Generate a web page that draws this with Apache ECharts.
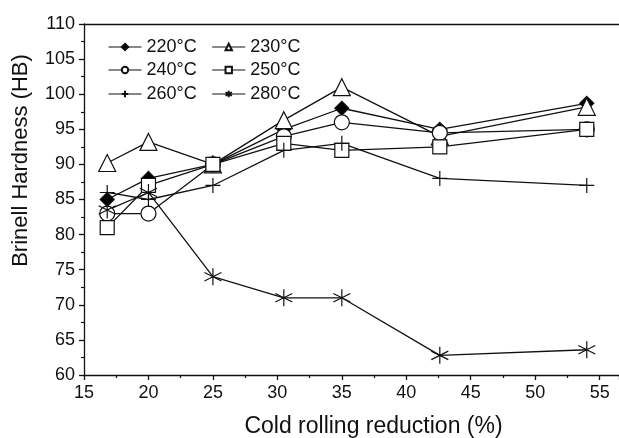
<!DOCTYPE html>
<html>
<head>
<meta charset="utf-8">
<script src="https://cdn.jsdelivr.net/npm/echarts@6/dist/echarts.min.js"></script>
<style>
  html, body { margin: 0; padding: 0; background: #fff; }
  #chart { width: 619px; height: 438px; }
</style>
</head>
<body>
<div id="chart"></div>
<script>
// cold rolling reduction (%)
const reduction = [16.8, 20, 25, 30.5, 35, 42.6, 54]
// Brinell hardness for each rolling temperature
const hb220 = [85, 88, 90, 95, 98, 95, 98.7]
const hb230 = [90.2, 93.2, 90, 96.3, 101, 94, 98.2]
const hb240 = [83, 83, 90, 94, 96, 94.5, 95]
const hb250 = [81, 87, 90, 93, 92, 92.5, 95]
const hb260 = [86, 85, 87, 92, 93, 88, 87]
const hb280 = [83.5, 86, 74, 71, 71, 62.8, 63.6]
const seriesNames = ['220°C', '230°C', '240°C', '250°C', '260°C', '280°C']

const font = 'Liberation Sans, Arial, sans-serif'
const ink = '#111'

const pair = (xs, ys) => xs.map((x, i) => [x, ys[i]])

// 符号：+ 和 Origin 风格星号用 path
const plusPath = 'path://M5,0 L5,10 M0,5 L10,5'
const starPath = 'path://M5,0 L5,10 M0.7,2.5 L9.3,7.5 M0.7,7.5 L9.3,2.5'

const mk = (name, data, symbol, size, fill) => ({
  name,
  type: 'line',
  data: pair(reduction, data),
  symbol,
  symbolSize: size,
  showAllSymbol: true,
  lineStyle: { color: ink, width: 1.3 },
  itemStyle: { color: fill, borderColor: ink, borderWidth: 1.2 },
  emphasis: { disabled: true },
  animation: false,
})

const legendBase = {
  left: 103,
  itemWidth: 33,
  itemHeight: 8,
  itemGap: 15,
  lineStyle: { width: 1 },
  textStyle: { fontFamily: font, fontSize: 18, color: ink },
  selectedMode: false,
}

const option = {
  backgroundColor: '#fff',
  grid: { left: 84, right: 0, top: 24, bottom: 63, containLabel: false, outerBoundsMode: 'none' },
  legend: [
    { ...legendBase, top: 33, data: [seriesNames[0], seriesNames[1]] },
    { ...legendBase, top: 56, data: [seriesNames[2], seriesNames[3]] },
    { ...legendBase, top: 80, data: [seriesNames[4], seriesNames[5]] },
  ],
  xAxis: [
    {
      type: 'value',
      min: 15,
      max: 56.5,
      interval: 5,
      name: 'Cold rolling reduction (%)',
      nameLocation: 'middle',
      nameGap: 40,
      nameTextStyle: { fontFamily: font, fontSize: 23, color: ink, padding: [0, 0, 0, 44] },
      axisLine: { lineStyle: { color: ink, width: 1.3 } },
      axisTick: { length: 5, lineStyle: { color: ink, width: 1.3 } },
      minorTick: { show: true, splitNumber: 2, length: 3, lineStyle: { color: ink, width: 1.2 } },
      axisLabel: { fontFamily: font, fontSize: 18, color: ink, margin: 9, showMaxLabel: false },
      splitLine: { show: false },
    },
    {
      type: 'value',
      position: 'top',
      min: 15,
      max: 56.5,
      axisLine: { lineStyle: { color: ink, width: 1.3 } },
      axisTick: { show: false },
      axisLabel: { show: false },
      splitLine: { show: false },
    },
  ],
  yAxis: {
    type: 'value',
    min: 60,
    max: 110,
    interval: 5,
    name: 'Brinell Hardness (HB)',
    nameLocation: 'middle',
    nameGap: 52,
    nameTextStyle: { fontFamily: font, fontSize: 22, color: ink, padding: [0, 0, 0, 78] },
    axisLine: { show: true, lineStyle: { color: ink, width: 1.3 } },
    axisTick: { show: true, length: 5, lineStyle: { color: ink, width: 1.3 } },
    minorTick: { show: true, splitNumber: 2, length: 3, lineStyle: { color: ink, width: 1.2 } },
    axisLabel: { fontFamily: font, fontSize: 18, color: ink, margin: 9 },
    splitLine: { show: false },
  },
  series: [
    mk(seriesNames[0], hb220, 'diamond', 14, '#000'),
    mk(seriesNames[1], hb230, 'triangle', 17, '#fff'),
    mk(seriesNames[2], hb240, 'circle', 15, '#fff'),
    mk(seriesNames[3], hb250, 'rect', 14, '#fff'),
    mk(seriesNames[4], hb260, plusPath, 15, 'none'),
    mk(seriesNames[5], hb280, starPath, 17, 'none'),
  ],
}

const myChart = echarts.init(document.getElementById('chart'), null, { renderer: 'canvas' })
myChart.setOption(option, true)
</script>
</body>
</html>
